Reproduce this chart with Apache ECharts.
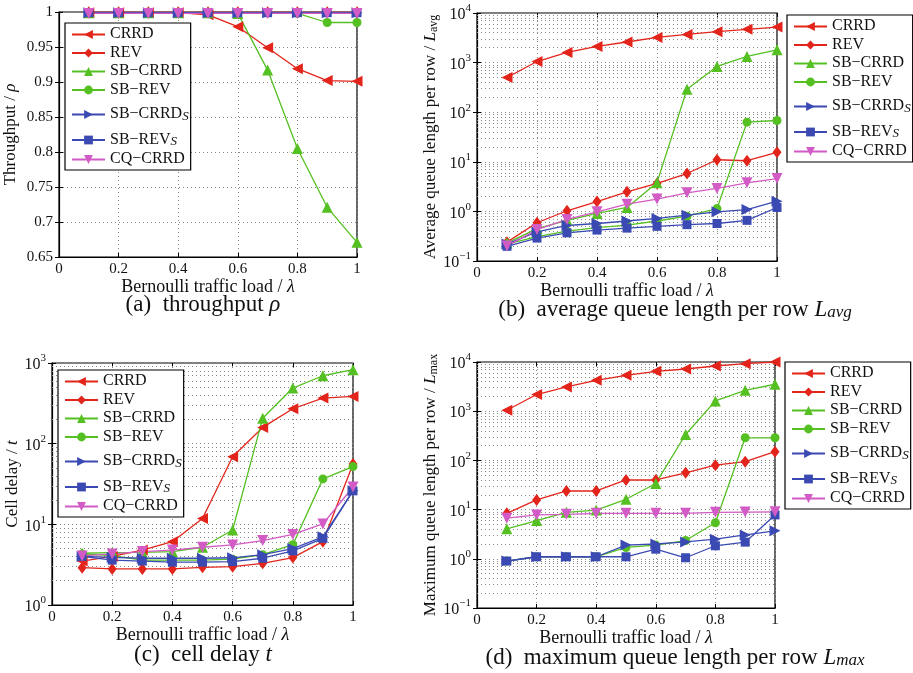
<!DOCTYPE html>
<html>
<head>
<meta charset="utf-8">
<script src="https://cdn.jsdelivr.net/npm/echarts@6/dist/echarts.min.js"></script>
<style>
  html, body { margin: 0; padding: 0; background: #fff; }
  #main { width: 913px; height: 673px; }
</style>
</head>
<body>
<div id="main"></div>
<script>
// x axis: Bernoulli traffic load
const loads = [0.1, 0.2, 0.3, 0.4, 0.5, 0.6, 0.7, 0.8, 0.9, 1.0];
const seriesNames = ['CRRD', 'REV', 'SB\u2212CRRD', 'SB\u2212REV', 'SB\u2212CRRD_S', 'SB\u2212REV_S', 'CQ\u2212CRRD'];

// (a) throughput
const thrCRRD    = [0.999, 0.999, 0.999, 0.999, 0.996, 0.979, 0.949, 0.919, 0.902, 0.901];
const thrREV     = [0.9995, 0.9995, 0.9995, 0.9995, 0.9995, 0.9995, 0.9995, 0.9995, 0.9995, 0.9995];
const thrSBCRRD  = [0.999, 0.999, 0.999, 0.999, 0.999, 0.998, 0.917, 0.805, 0.721, 0.671];
const thrSBREV   = [0.999, 0.999, 0.999, 0.999, 0.999, 0.999, 0.999, 0.998, 0.985, 0.985];
const thrSBCRRDs = [0.999, 0.999, 0.999, 0.999, 0.999, 0.999, 0.999, 0.999, 0.999, 0.999];
const thrSBREVs  = [0.999, 0.999, 0.999, 0.999, 0.999, 0.999, 0.999, 0.999, 0.999, 0.999];
const thrCQ      = [0.998, 0.998, 0.998, 0.998, 0.998, 0.998, 0.998, 0.998, 0.998, 0.998];

// (b) average queue length per row
const avgCRRD    = [500, 1050, 1600, 2120, 2600, 3220, 3700, 4200, 4680, 5210];
const avgREV     = [0.24, 0.59, 1.03, 1.58, 2.48, 3.66, 5.8, 11, 10.5, 15.5];
const avgSBCRRD  = [0.23, 0.45, 0.66, 0.91, 1.2, 3.8, 291, 836, 1330, 1815];
const avgSBREV   = [0.22, 0.31, 0.40, 0.47, 0.53, 0.64, 0.80, 1.14, 63, 68];
const avgSBCRRDs = [0.22, 0.385, 0.52, 0.57, 0.64, 0.72, 0.84, 0.98, 1.09, 1.61];
const avgSBREVs  = [0.198, 0.29, 0.37, 0.42, 0.46, 0.50, 0.54, 0.57, 0.66, 1.2];
const avgCQ      = [0.2, 0.43, 0.69, 0.98, 1.4, 1.77, 2.37, 2.9, 3.77, 4.6];

// (c) cell delay
const delayCRRD    = [3.5, 4.0, 4.8, 6.1, 11.8, 69, 159, 271, 367, 385];
const delayREV     = [2.9, 2.8, 2.8, 2.8, 2.93, 2.99, 3.29, 3.87, 6.1, 56];
const delaySBCRRD  = [4.38, 4.46, 4.5, 4.59, 5.2, 8.5, 207, 489, 695, 826];
const delaySBREV   = [4.3, 4.1, 3.6, 3.6, 3.6, 3.7, 4.2, 5.6, 36.6, 52];
const delaySBCRRDs = [4.0, 3.9, 3.8, 3.8, 3.8, 3.85, 4.2, 5.0, 7.0, 26];
const delaySBREVs  = [4.0, 3.6, 3.5, 3.4, 3.4, 3.45, 3.8, 4.7, 6.7, 26];
const delayCQ      = [4.06, 4.3, 4.6, 4.8, 5.2, 5.56, 6.3, 7.5, 10.1, 29];

// (d) maximum queue length per row
const maxCRRD    = [1045, 2180, 3110, 4240, 5370, 6460, 7200, 8300, 9250, 10000];
const maxREV     = [8.4, 15.7, 23.9, 23.9, 40, 40, 56, 80, 94, 150];
const maxSBCRRD  = [4.06, 6, 8.8, 9.8, 16.2, 34, 336, 1620, 2660, 3530];
const maxSBREV   = [0.9, 1.1, 1.1, 1.1, 1.7, 1.9, 2.35, 5.4, 288, 288];
const maxSBCRRDs = [0.9, 1.1, 1.1, 1.1, 1.9, 2.0, 2.2, 2.5, 3.06, 3.7];
const maxSBREVs  = [0.9, 1.1, 1.1, 1.1, 1.1, 1.57, 1.05, 1.84, 2.18, 7.8];
const maxCQ      = [6.7, 7.8, 8.0, 8.4, 8.4, 8.4, 8.4, 8.8, 8.9, 9];

const FONT = 'Liberation Serif, Times New Roman, serif';
const colors = ['#e3241b', '#e3241b', '#55c021', '#55c021', '#3b4ab3', '#3b4ab3', '#d35bc5'];
const symbols = ['triangle', 'diamond', 'triangle', 'circle', 'triangle', 'rect', 'triangle'];
const rotations = [90, 0, 0, 0, -90, 0, 180];

// minor grid lines for log axes (2..9 per decade)
function minorLines(lo, hi) {
  let out = [];
  for (let e = lo; e < hi; e++) {
    for (let k = 2; k <= 9; k++) out.push(k * Math.pow(10, e));
  }
  return out;
}

const panels = [
  {
    grid: { left: 59, top: 12, width: 298, height: 245 },
    log: false, min: 0.65, max: 1, interval: 0.05,
    data: [thrCRRD, thrREV, thrSBCRRD, thrSBREV, thrSBCRRDs, thrSBREVs, thrCQ],
    legend: { left: 65, top: 23 },
    yname: 'Throughput / {i|\u03c1}', ygap: 40,
    caption: '(a)  throughput {i|\u03c1}', cx: 203, cy: 305
  },
  {
    grid: { left: 477, top: 13, width: 300, height: 248 },
    log: true, min: 0.1, max: 10000, lo: -1, hi: 4,
    data: [avgCRRD, avgREV, avgSBCRRD, avgSBREV, avgSBCRRDs, avgSBREVs, avgCQ],
    legend: { left: 787, top: 15 },
    yname: 'Average queue length per row / {i|L}{s|avg}', ygap: 32,
    caption: '(b)  average queue length per row {i|L}{si|avg}', cx: 675, cy: 310
  },
  {
    grid: { left: 52, top: 363, width: 301, height: 242 },
    log: true, min: 1, max: 1000, lo: 0, hi: 3,
    data: [delayCRRD, delayREV, delaySBCRRD, delaySBREV, delaySBCRRDs, delaySBREVs, delayCQ],
    legend: { left: 58, top: 370 },
    yname: 'Cell delay / {i|t}', ygap: 29,
    caption: '(c)  cell delay {i|t}', cx: 203, cy: 655
  },
  {
    grid: { left: 477, top: 362, width: 298, height: 246 },
    log: true, min: 0.1, max: 10000, lo: -1, hi: 4,
    data: [maxCRRD, maxREV, maxSBCRRD, maxSBREV, maxSBCRRDs, maxSBREVs, maxCQ],
    legend: { left: 785, top: 362 },
    yname: 'Maximum queue length per row / {i|L}{s|max}', ygap: 32,
    caption: '(d)  maximum queue length per row {i|L}{si|max}', cx: 675, cy: 658
  }
];

const dotted = { color: '#8a8a8a', width: 1, type: [1, 3] };
const nameRich = {
  i: { fontFamily: FONT, fontSize: 17, fontStyle: 'italic', color: '#111' },
  s: { fontFamily: FONT, fontSize: 12, color: '#111', padding: [8, 0, 0, 0], lineHeight: 13, verticalAlign: 'bottom' }
};
const xNameRich = {
  i: { fontFamily: FONT, fontSize: 18, fontStyle: 'italic', color: '#111' }
};

let option = {
  animation: false,
  backgroundColor: '#fff',
  grid: [], xAxis: [], yAxis: [], legend: [], series: [], graphic: []
};

panels.forEach((p, gi) => {
  option.grid.push(Object.assign({ show: true, borderColor: '#000', borderWidth: 1.2, backgroundColor: 'transparent', containLabel: false, outerBoundsMode: 'none' }, p.grid));

  option.xAxis.push({
    gridIndex: gi, type: 'value', min: 0, max: 1, interval: 0.2,
    name: 'Bernoulli traffic load / {i|\u03bb}', nameLocation: 'middle', nameGap: 20,
    nameTextStyle: { fontFamily: FONT, fontSize: 18, color: '#111', rich: xNameRich },
    axisLine: { show: true, onZero: false, lineStyle: { color: '#000', width: 1.2 } },
    axisTick: { show: true, inside: true, length: 4, lineStyle: { color: '#000' } },
    axisLabel: { fontFamily: FONT, fontSize: 15, color: '#111', margin: 5 },
    splitLine: { show: true, lineStyle: dotted }
  });
  // top edge ticks
  option.xAxis.push({
    gridIndex: gi, type: 'value', min: 0, max: 1, interval: 0.2, position: 'top',
    axisLine: { show: false }, axisLabel: { show: false }, splitLine: { show: false },
    axisTick: { show: true, inside: true, length: 4, lineStyle: { color: '#000' } }
  });

  let y = {
    gridIndex: gi, min: p.min, max: p.max,
    name: p.yname, nameLocation: 'middle', nameGap: p.ygap,
    nameTextStyle: { fontFamily: FONT, fontSize: 17, color: '#111', rich: nameRich },
    axisLine: { show: true, lineStyle: { color: '#000', width: 1.2 } },
    axisTick: { show: true, inside: true, length: 4, lineStyle: { color: '#000' } },
    splitLine: { show: true, lineStyle: dotted }
  };
  if (p.log) {
    y.type = 'log';
    y.logBase = 10;
    y.interval = 1;
    y.axisLabel = {
      margin: 6,
      formatter: v => {
        let e = Math.round(Math.log10(v));
        return '{b|10}{e|' + (e < 0 ? '\u2212' + (-e) : e) + '}';
      },
      rich: {
        b: { fontFamily: FONT, fontSize: 16, color: '#111', lineHeight: 20, verticalAlign: 'bottom' },
        e: { fontFamily: FONT, fontSize: 11, color: '#111', lineHeight: 10, verticalAlign: 'top' }
      }
    };
  } else {
    y.type = 'value';
    y.interval = p.interval;
    y.axisLabel = { fontFamily: FONT, fontSize: 15, color: '#111', margin: 6 };
  }
  option.yAxis.push(y);
  // right edge ticks
  option.yAxis.push({
    gridIndex: gi, type: y.type, logBase: 10, min: p.min, max: p.max, interval: y.interval, position: 'right',
    axisLine: { show: false }, axisLabel: { show: false }, splitLine: { show: false },
    axisTick: { show: true, inside: true, length: 4, lineStyle: { color: '#000' } }
  });

  option.legend.push({
    orient: 'vertical', left: p.legend.left, top: p.legend.top,
    data: seriesNames,
    backgroundColor: '#fff', borderColor: '#000', borderWidth: 1.2, borderRadius: 0,
    padding: [3, 2, 3, 6], itemGap: 2.5, itemWidth: 33, itemHeight: 11,
    selectedMode: false,
    formatter: name => {
      let parts = name.split('_');
      return parts.length > 1 ? '{n|' + parts[0] + '}{s|' + parts[1] + '}' : '{n|' + name + '}';
    },
    textStyle: {
      fontFamily: FONT, fontSize: 16, color: '#111',
      rich: {
        n: { fontFamily: FONT, fontSize: 16, color: '#111', lineHeight: 17, verticalAlign: 'top' },
        s: { fontFamily: FONT, fontSize: 13, fontStyle: 'italic', color: '#111', lineHeight: 14, padding: [10, 0, 0, 0], verticalAlign: 'bottom' }
      }
    }
  });

  p.data.forEach((vals, si) => {
    let s = {
      name: seriesNames[si], type: 'line',
      xAxisIndex: gi * 2, yAxisIndex: gi * 2,
      data: loads.map((x, i) => [x, vals[i]]),
      symbol: symbols[si], symbolRotate: rotations[si],
      symbolSize: si === 1 ? [9, 12] : (si === 3 || si === 5 ? 9 : 11),
      clip: false,
      lineStyle: { color: colors[si], width: 1.3 },
      itemStyle: { color: colors[si] },
      z: 3
    };
    if (p.log && si === 0) {
      s.markLine = {
        silent: true, symbol: ['none', 'none'], z: 1,
        label: { show: false },
        lineStyle: dotted,
        emphasis: { disabled: true },
        data: minorLines(p.lo, p.hi).map(v => ({ yAxis: v }))
      };
    }
    option.series.push(s);
  });

  option.graphic.push({
    type: 'text', x: p.cx, y: p.cy,
    style: {
      text: p.caption, align: 'center', textAlign: 'center', verticalAlign: 'middle', textVerticalAlign: 'middle',
      fontFamily: FONT, fontSize: 23, fill: '#111',
      rich: {
        i: { fontFamily: FONT, fontSize: 23, fontStyle: 'italic', fill: '#111', lineHeight: 23, verticalAlign: 'top' },
        si: { fontFamily: FONT, fontSize: 17, fontStyle: 'italic', fill: '#111', lineHeight: 17, padding: [10, 0, 0, 0], verticalAlign: 'bottom' }
      }
    }
  });
});

let chart = echarts.init(document.getElementById('main'), null, { renderer: 'canvas' });
chart.setOption(option);
</script>
</body>
</html>
